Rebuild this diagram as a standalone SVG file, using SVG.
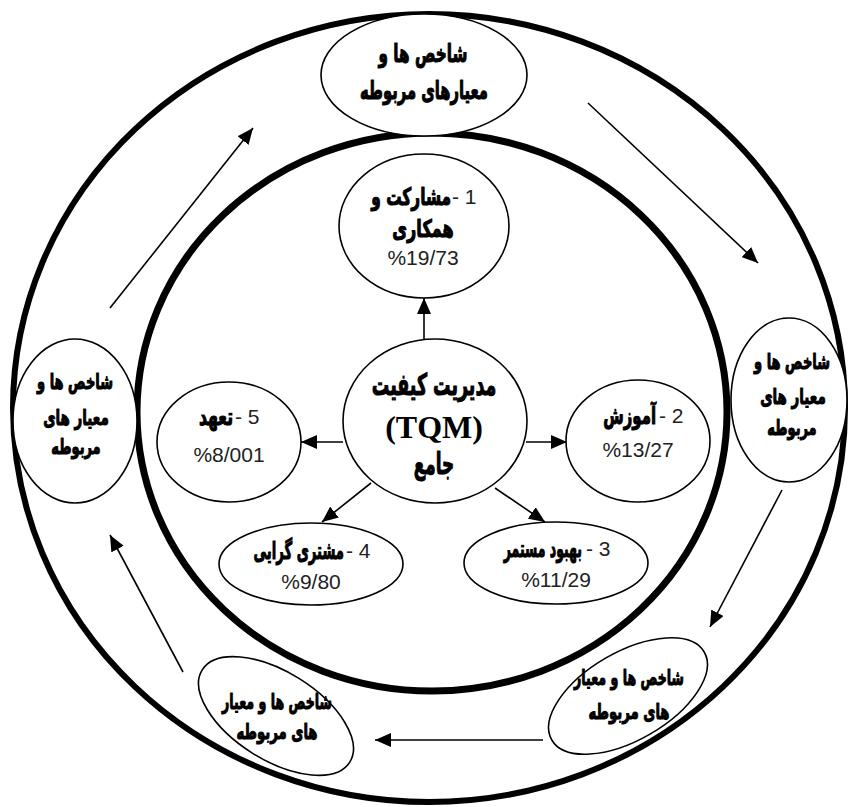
<svg xmlns="http://www.w3.org/2000/svg" width="850" height="807" viewBox="0 0 850 807">
<style>
.ring{fill:none;stroke:#000}
.node{fill:#fff;stroke:#000;stroke-width:1.6}
.fa{font-family:"DejaVu Sans",sans-serif;font-weight:bold;fill:#000;stroke:#000;stroke-width:1.1;stroke-linejoin:round}
.num{font-family:"Liberation Sans",sans-serif;font-size:21px;fill:#222}
.tqm{font-family:"Liberation Serif",serif;font-weight:bold;font-size:32px;fill:#000}
.m{text-anchor:middle}
.e{text-anchor:end}
.conn line{stroke:#000;stroke-width:1.6}
</style>
<defs>
<marker id="ah" markerUnits="userSpaceOnUse" markerWidth="16" markerHeight="14" refX="16" refY="7" orient="auto">
<path d="M0,0 L16,7 L0,14 z" fill="#000"/>
</marker>
</defs>
<rect width="850" height="807" fill="#fff"/>
<g id="rings">
<ellipse class="ring" cx="429" cy="408" rx="416" ry="394" stroke-width="6"/>
<ellipse class="ring" cx="432" cy="412" rx="295" ry="279" stroke-width="7"/>
</g>
<g id="conn" class="conn">
<line x1="424" y1="340" x2="424" y2="298" marker-end="url(#ah)"/>
<line x1="343" y1="442" x2="301" y2="442" marker-end="url(#ah)"/>
<line x1="526" y1="442" x2="567" y2="442" marker-end="url(#ah)"/>
<line x1="495" y1="488" x2="545" y2="522" marker-end="url(#ah)"/>
<line x1="371" y1="483" x2="322" y2="522" marker-end="url(#ah)"/>
<line x1="110" y1="308" x2="253" y2="128" marker-end="url(#ah)"/>
<line x1="588" y1="103" x2="758" y2="263" marker-end="url(#ah)"/>
<line x1="782" y1="490" x2="710" y2="627" marker-end="url(#ah)"/>
<line x1="543" y1="740" x2="375" y2="740" marker-end="url(#ah)"/>
<line x1="183" y1="672" x2="110" y2="535" marker-end="url(#ah)"/>
</g>
<g id="n-top">
<ellipse class="node" cx="424" cy="75" rx="103" ry="61"/>
<text class="fa m" transform="translate(423,62) scale(0.61,1)" font-size="25">شاخص ها و</text>
<text class="fa m" transform="translate(424,99) scale(0.59,1)" font-size="25">معیارهای مربوطه</text>
</g>
<g id="n-right">
<ellipse class="node" cx="789" cy="400" rx="58" ry="82"/>
<text class="fa m" transform="translate(792,369) scale(0.62,1)" font-size="21">شاخص ها و</text>
<text class="fa m" transform="translate(793,404) scale(0.64,1)" font-size="21">معیار های</text>
<text class="fa m" transform="translate(792,435) scale(0.62,1)" font-size="21">مربوطه</text>
</g>
<g id="n-left">
<ellipse class="node" cx="75" cy="421" rx="62" ry="82"/>
<text class="fa m" transform="translate(75,389) scale(0.62,1)" font-size="21">شاخص ها و</text>
<text class="fa m" transform="translate(76,425) scale(0.64,1)" font-size="21">معیار های</text>
<text class="fa m" transform="translate(76,454) scale(0.62,1)" font-size="21">مربوطه</text>
</g>
<g id="n-br">
<ellipse class="node" cx="628" cy="696" rx="88" ry="44" transform="rotate(-30 628 696)"/>
<text class="fa m" transform="translate(629,685) scale(0.6,1)" font-size="21">شاخص ها و معیار</text>
<text class="fa m" transform="translate(629,719) scale(0.63,1)" font-size="21">های مربوطه</text>
</g>
<g id="n-bl">
<ellipse class="node" cx="276" cy="716" rx="87" ry="44" transform="rotate(32 276 716)"/>
<text class="fa m" transform="translate(277,709) scale(0.6,1)" font-size="21">شاخص ها و معیار</text>
<text class="fa m" transform="translate(277,739) scale(0.63,1)" font-size="21">های مربوطه</text>
</g>
<g id="n1">
<ellipse class="node" cx="424" cy="226" rx="85" ry="72"/>
<text class="fa e" transform="translate(451,205) scale(0.64,1)" font-size="24">مشارکت و</text>
<text class="num" x="452" y="204">- 1</text>
<text class="fa m" transform="translate(423,237) scale(0.67,1)" font-size="24">همکاری</text>
<text class="num m" x="423" y="265">%19/73</text>
</g>
<g id="center">
<ellipse class="node" cx="435" cy="421" rx="92" ry="82"/>
<text class="fa m" transform="translate(434,395) scale(0.58,1)" font-size="30">مدیریت کیفیت</text>
<text class="tqm m" x="434" y="438">(TQM)</text>
<text class="fa m" transform="translate(434,474) scale(0.56,1)" font-size="30">جامع</text>
</g>
<g id="n5">
<ellipse class="node" cx="229" cy="442" rx="72" ry="60"/>
<text class="fa e" transform="translate(233,425) scale(0.65,1)" font-size="24">تعهد</text>
<text class="num" x="235" y="424">- 5</text>
<text class="num m" x="229" y="462">%8/001</text>
</g>
<g id="n2">
<ellipse class="node" cx="638" cy="441" rx="72" ry="61"/>
<text class="fa e" transform="translate(656,424) scale(0.62,1)" font-size="24">آموزش</text>
<text class="num" x="659" y="423">- 2</text>
<text class="num m" x="638" y="457">%13/27</text>
</g>
<g id="n3">
<ellipse class="node" cx="556" cy="563" rx="92" ry="41"/>
<text class="fa e" transform="translate(582,557) scale(0.52,1)" font-size="24">بهبود مستمر</text>
<text class="num" x="586" y="556">- 3</text>
<text class="num m" x="556" y="587">%11/29</text>
</g>
<g id="n4">
<ellipse class="node" cx="311" cy="564" rx="92" ry="41"/>
<text class="fa e" transform="translate(344,559) scale(0.55,1)" font-size="24">مشتری گرایی</text>
<text class="num" x="346" y="558">- 4</text>
<text class="num m" x="311" y="589">%9/80</text>
</g>
</svg>
